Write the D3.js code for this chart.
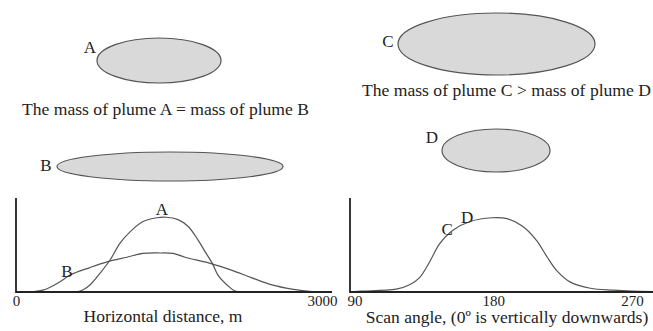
<!DOCTYPE html>
<html>
<head>
<meta charset="utf-8">
<script src="https://cdn.jsdelivr.net/npm/d3@7/dist/d3.min.js"></script>
<style>
body { margin: 0; background: #fff; }
svg { display: block; font-family: "Liberation Serif", "Times New Roman", serif; fill: #222; }
</style>
</head>
<body>
<svg width="653" height="331"></svg>
<script>
// values (signal in % of axis height)
var distA = [0, 333, 627, 725, 824, 922, 1020, 1118, 1245, 1382, 1471, 1588, 1686, 1784, 1853, 1922, 1980, 2069, 2147, 2245, 2400]
var plumeA = [0, 0.3, 1, 7.5, 20, 34, 52, 64, 75, 79, 79.5, 77, 70, 55.5, 43, 31, 18, 7.5, 1, 0, 0]

var distB = [0, 265, 431, 529, 725, 892, 1088, 1245, 1412, 1539, 1657, 1922, 2118, 2314, 2510, 2706, 2902, 3000]
var plumeB = [0, 2, 11, 18, 26, 32, 37, 41, 41.5, 41, 37, 30, 23, 15, 7.5, 3, 0.3, 0]

var angle = [90, 95, 117, 126, 132, 139, 145, 154, 165, 179, 189, 199, 208, 215, 221, 230, 243, 258, 270, 283]
var plumeCD = [0.5, 1, 3, 8, 15, 33, 51, 66, 75, 79, 78, 70, 55, 37, 23, 10.5, 4, 2, 1, 0.5]

var distTicks = [0, 3000]
var angleTicks = [90, 180, 270]

// sketch of the plumes (layout only)
var plumes = [
  {name: 'A', cx: 159, cy: 60.5, rx: 62, ry: 22.5, lx: 90, ly: 53},
  {name: 'B', cx: 170, cy: 166.5, rx: 113, ry: 14.5, lx: 46, ly: 171},
  {name: 'C', cx: 496.5, cy: 44, rx: 98.5, ry: 31, lx: 388, ly: 47},
  {name: 'D', cx: 496, cy: 150.5, rx: 54, ry: 21.5, lx: 432, ly: 143}
]

var svg = d3.select('svg')

svg.selectAll('ellipse')
  .data(plumes)
  .enter()
  .append('ellipse')
  .attr('cx', function(d) { return d.cx })
  .attr('cy', function(d) { return d.cy })
  .attr('rx', function(d) { return d.rx })
  .attr('ry', function(d) { return d.ry })
  .style('fill', '#d9d9d9')
  .style('stroke', '#555')
  .style('stroke-width', 1.2)

svg.selectAll('.plabel')
  .data(plumes)
  .enter()
  .append('text')
  .attr('class', 'plabel')
  .attr('x', function(d) { return d.lx })
  .attr('y', function(d) { return d.ly })
  .attr('text-anchor', 'middle')
  .style('font-size', '17px')
  .text(function(d) { return d.name })

svg.append('text').attr('x', 165.5).attr('y', 115).attr('text-anchor', 'middle')
  .style('font-size', '17.6px').text('The mass of plume A = mass of plume B')
svg.append('text').attr('x', 506.5).attr('y', 96).attr('text-anchor', 'middle')
  .style('font-size', '17.6px').text('The mass of plume C > mass of plume D')

// scales
var y = d3.scaleLinear().domain([0, 100]).range([292, 198])
var xL = d3.scaleLinear().domain([0, 3000]).range([16, 322])
var xR = d3.scaleLinear().domain([87, 270]).range([350, 632])

var line = function(xs, xScale, vals) {
  return d3.line()
    .x(function(d, i) { return xScale(xs[i]) })
    .y(function(d) { return y(d) })
    .curve(d3.curveCatmullRom.alpha(0.5))(vals)
}

function curve(xs, xScale, vals) {
  svg.append('path')
    .attr('d', line(xs, xScale, vals))
    .style('fill', 'none')
    .style('stroke', '#555')
    .style('stroke-width', 1.2)
}
curve(distB, xL, plumeB)
curve(distA, xL, plumeA)
curve(angle, xR, plumeCD)

// axes: just two lines each
function axisLines(x0, x1) {
  svg.append('path')
    .attr('d', 'M' + x0 + ',' + y(100) + 'V' + y(0) + 'H' + x1)
    .style('fill', 'none')
    .style('stroke', '#222')
    .style('stroke-width', 1.8)
}
axisLines(xL(0), 332)
axisLines(xR(87), 653)

function ticks(scale, vals) {
  var g = svg.append('g')
    .attr('transform', 'translate(0,' + y(0) + ')')
    .call(d3.axisBottom(scale).tickValues(vals).tickSize(0).tickPadding(3).tickFormat(d3.format('d')))
  g.select('.domain').remove()
  g.selectAll('text').style('font-size', '15px').attr('fill', '#222')
  g.attr('font-family', null)
}
ticks(xL, distTicks)
ticks(xR, angleTicks)

svg.append('text').attr('x', 163).attr('y', 322).attr('text-anchor', 'middle')
  .style('font-size', '17.5px').text('Horizontal distance, m')
svg.append('text').attr('x', 507).attr('y', 322.5).attr('text-anchor', 'middle')
  .style('font-size', '17.5px').text('Scan angle, (0º is vertically downwards)')

// curve labels
svg.append('text').attr('x', xL(1430)).attr('y', 215).attr('text-anchor', 'middle')
  .style('font-size', '17px').text('A')
svg.append('text').attr('x', xL(500)).attr('y', 277).attr('text-anchor', 'middle')
  .style('font-size', '17px').text('B')
svg.append('text').attr('x', xR(150)).attr('y', 235).attr('text-anchor', 'middle')
  .style('font-size', '17px').text('C')
svg.append('text').attr('x', xR(163)).attr('y', 223).attr('text-anchor', 'middle')
  .style('font-size', '17px').text('D')
</script>
</body>
</html>
